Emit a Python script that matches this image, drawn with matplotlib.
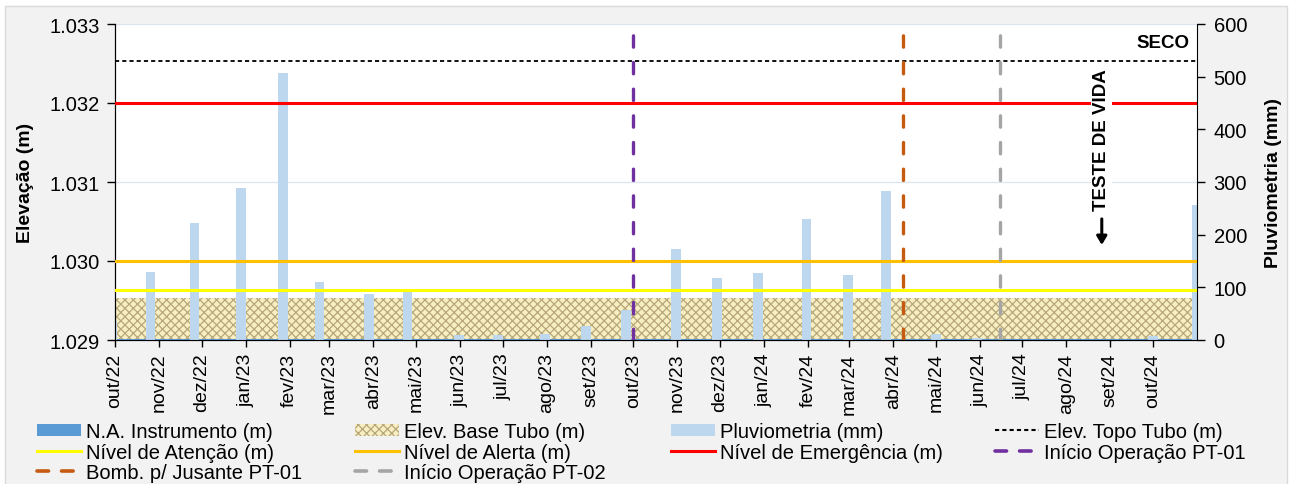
import matplotlib
matplotlib.use("Agg")
import matplotlib.pyplot as plt
from matplotlib.patches import Patch, Rectangle
from matplotlib.lines import Line2D
import pandas as pd

plt.rcParams['font.family'] = ['Liberation Sans', 'DejaVu Sans']
plt.rcParams['hatch.linewidth'] = 0.9

# Pluviometria mensal (mm), datas das barras
rain_dates = pd.to_datetime([
    "2022-09-29", "2022-10-26", "2022-11-26", "2022-12-29", "2023-01-27",
    "2023-02-22", "2023-03-29", "2023-04-25", "2023-05-31", "2023-06-28",
    "2023-07-31", "2023-08-29", "2023-09-26", "2023-10-31", "2023-11-29",
    "2023-12-28", "2024-01-31", "2024-02-29", "2024-03-27", "2024-05-01",
    "2024-05-30", "2024-06-28", "2024-07-31", "2024-08-29", "2024-10-01",
    "2024-11-01",
])
rain_mm = [36, 130, 222, 288, 507,
           111, 87, 93, 10, 10,
           11, 27, 57, 173, 118,
           127, 230, 123, 283, 11,
           4, 0, 0, 0, 8,
           257]

# Elev. base do tubo e N.A. (instrumento seco)
base_dates = pd.to_datetime(["2022-09-29", "2024-10-29"])
base_elev = [1.02953, 1.02953]
na_elev = [1.029, 1.029]

# niveis de referencia (m)
topo_tubo = 1.03253
nivel_emergencia = 1.032
nivel_alerta = 1.030
nivel_atencao = 1.02963

# eventos
inicio_pt01 = pd.Timestamp("2023-10-01")
bomb_jusante = pd.Timestamp("2024-04-08")
inicio_pt02 = pd.Timestamp("2024-06-15")

month_ticks = pd.date_range("2022-10-01", "2024-10-01", freq="MS")
month_labels = ["out/22", "nov/22", "dez/22", "jan/23", "fev/23", "mar/23",
                "abr/23", "mai/23", "jun/23", "jul/23", "ago/23", "set/23",
                "out/23", "nov/23", "dez/23", "jan/24", "fev/24", "mar/24",
                "abr/24", "mai/24", "jun/24", "jul/24", "ago/24", "set/24",
                "out/24"]

x_start = pd.Timestamp("2022-10-01")
x_end = pd.Timestamp("2024-11-01")

c_na = '#5b9bd5'
c_rain = '#bdd7ee'
c_base_face = '#f7efc2'
c_base_hatch = '#b7a77a'
c_atencao = '#ffff00'
c_alerta = '#ffc000'
c_emerg = '#ff0000'
c_pt01 = '#7030a0'
c_bomb = '#c55a11'
c_pt02 = '#a5a5a5'

fig = plt.figure(figsize=(12.9, 4.85), dpi=100, facecolor='white')
fig.add_artist(Rectangle((5 / 1290, -0.01), 1282 / 1290, 1 - 7 / 485 + 0.01,
                         transform=fig.transFigure, facecolor='#f2f2f2',
                         edgecolor='#d9d9d9', lw=1, zorder=0))
fig.subplots_adjust(left=115 / 1290, right=1197 / 1290,
                    top=1 - 25 / 485, bottom=1 - 341 / 485)

ax = fig.add_subplot(111)
ax.set_facecolor('white')

# area base do tubo (hachurada) e N.A.
ax.fill_between(base_dates, 1.029, base_elev, facecolor=c_base_face,
                edgecolor=c_base_hatch, hatch='xxxx', lw=0, zorder=2)
ax.plot(base_dates, na_elev, color=c_na, lw=2.2, zorder=3)

ax.set_ylim(1.029, 1.033)
ax.set_yticks([1.029, 1.030, 1.031, 1.032, 1.033])
ax.set_yticklabels(["1.029", "1.030", "1.031", "1.032", "1.033"])
ax.grid(axis='y', color='#dce4ef', lw=0.9, zorder=1)
ax.set_axisbelow(True)
ax.set_xlim(x_start, x_end)
ax.set_xticks(month_ticks)
ax.set_xticklabels(month_labels, rotation=90, fontsize=14)
ax.tick_params(axis='x', length=5, width=1, pad=4)
ax.tick_params(axis='y', length=6, width=1, pad=5, labelsize=14.5)
ax.spines['top'].set_visible(False)
ax.spines['right'].set_visible(False)
ax.set_ylabel("Elevação (m)", fontsize=14, fontweight='bold')
ax.yaxis.set_label_coords(-0.0745, 0.5)

# pluviometria no eixo secundario
ax2 = ax.twinx()
ax2.bar(rain_dates, rain_mm, width=7, color=c_rain, zorder=2)
ax2.set_ylim(0, 600)
ax2.set_yticks(range(0, 601, 100))
ax2.tick_params(axis='y', length=6, width=1, pad=6, labelsize=14.5)
ax2.spines['top'].set_visible(False)
ax2.set_ylabel("Pluviometria (mm)", fontsize=14, fontweight='bold')
ax2.yaxis.set_label_coords(1.0628, 0.5)
ax2.set_xlim(x_start, x_end)

# linhas de nivel por cima das barras
ax3 = ax.twinx()
ax3.set_ylim(ax.get_ylim())
ax3.set_xlim(x_start, x_end)
ax3.axis('off')
ax3.axhline(nivel_atencao, color=c_atencao, lw=2.2)
ax3.axhline(nivel_alerta, color=c_alerta, lw=2.2)
ax3.axhline(nivel_emergencia, color=c_emerg, lw=2.2)
ax3.axhline(topo_tubo, color='black', lw=1.3, ls=(0, (2.3, 1.7)))
vdash = dict(lw=2.4, ls=(0, (3.4, 4.6)), dash_capstyle='round')
ax3.axvline(inicio_pt01, color=c_pt01, **vdash)
ax3.axvline(bomb_jusante, color=c_bomb, **vdash)
ax3.axvline(inicio_pt02, color=c_pt02, **vdash)

ax3.text(0.9926, 0.943, "SECO", transform=ax3.transAxes, ha='right',
         va='center', fontsize=13.5, fontweight='bold')
ax3.text(0.912, 0.636, "TESTE DE VIDA", transform=ax3.transAxes, rotation=90,
         ha='center', va='center', fontsize=13.5, fontweight='bold',
         bbox=dict(facecolor='white', edgecolor='none', pad=1.5))
ax3.annotate("", xy=(0.912, 0.292), xytext=(0.912, 0.392),
             xycoords='axes fraction', textcoords='axes fraction',
             arrowprops=dict(arrowstyle='-|>,head_length=0.5,head_width=0.3',
                             color='black', lw=2.2))

# legenda (4 colunas, como no Excel)
line_kw = dict(lw=2.2)
dash_kw = dict(lw=2.6, ls=(0, (3.2, 3.6)), dash_capstyle='round')
columns = [
    [(Patch(facecolor=c_na, edgecolor='none'), "N.A. Instrumento (m)"),
     (Line2D([], [], color=c_atencao, **line_kw), "Nível de Atenção (m)"),
     (Line2D([], [], color=c_bomb, **dash_kw), "Bomb. p/ Jusante PT-01")],
    [(Patch(facecolor=c_base_face, edgecolor=c_base_hatch, hatch='xxxx', lw=0),
      "Elev. Base Tubo (m)"),
     (Line2D([], [], color=c_alerta, **line_kw), "Nível de Alerta (m)"),
     (Line2D([], [], color=c_pt02, **dash_kw), "Início Operação PT-02")],
    [(Patch(facecolor=c_rain, edgecolor='none'), "Pluviometria (mm)"),
     (Line2D([], [], color=c_emerg, **line_kw), "Nível de Emergência (m)")],
    [(Line2D([], [], color='black', lw=1.5, ls=(0, (2, 1.5))), "Elev. Topo Tubo (m)"),
     (Line2D([], [], color=c_pt01, **dash_kw), "Início Operação PT-01")],
]
col_x = [37, 355, 671, 995]
for x0, entries in zip(col_x, columns):
    fig.legend([h for h, _ in entries], [t for _, t in entries],
               loc='upper left', bbox_to_anchor=(x0 / 1290, 1 - 423 / 485),
               frameon=False, fontsize=14.5, borderpad=0, borderaxespad=0,
               handlelength=2.2, handletextpad=0.25, labelspacing=0.08,
               handleheight=0.6)

fig.savefig("out.png", dpi=100, facecolor=fig.get_facecolor())
